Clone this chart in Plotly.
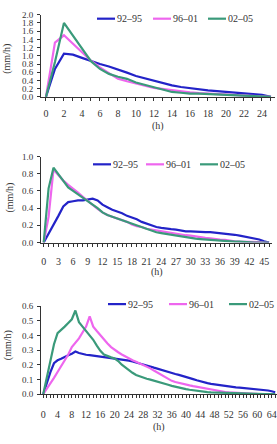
import plotly.graph_objects as go

# ---------------- data ----------------
series_names = ["92\u201395", "96\u201301", "02\u201305"]
colors = ["#2323c8", "#ee66ee", "#3a9a7a"]

# y tick labels of each panel
y_ticks1 = [0.0, 0.2, 0.4, 0.6, 0.8, 1.0, 1.2, 1.4, 1.6, 1.8, 2.0]
y_ticks2 = [0.0, 0.2, 0.4, 0.6, 0.8, 1.0]
y_ticks3 = [0.0, 0.1, 0.2, 0.3, 0.4, 0.5, 0.6]

# Panel 1 (hourly, 0..25 h)
h1 = list(range(0, 26))
p1_9295 = [0, 0.68, 1.05, 1.03, 0.95, 0.87, 0.80, 0.74, 0.67, 0.59, 0.51, 0.45, 0.39, 0.33,
           0.28, 0.24, 0.21, 0.19, 0.16, 0.14, 0.12, 0.10, 0.09, 0.07, 0.05, 0.0]
p1_9601 = [0, 1.32, 1.50, 1.29, 1.09, 0.88, 0.72, 0.57, 0.44, 0.38, 0.32, 0.27, 0.22, 0.19,
           0.16, 0.13, 0.11, 0.09, 0.08, 0.07, 0.05, 0.04, 0.03, 0.02, 0.01, 0.0]
p1_0205 = [0, 0.85, 1.80, 1.48, 1.16, 0.87, 0.68, 0.56, 0.49, 0.44, 0.35, 0.29, 0.23, 0.18,
           0.12, 0.10, 0.08, 0.08, 0.07, 0.06, 0.05, 0.05, 0.04, 0.03, 0.02, 0.0]

# Panel 2 (hourly, 0..46 h)
h2 = list(range(0, 47))
p2_9295 = [0, 0.10, 0.20, 0.31, 0.42, 0.47, 0.48, 0.49, 0.49, 0.50, 0.51, 0.49, 0.44, 0.41,
           0.38, 0.36, 0.34, 0.31, 0.29, 0.27, 0.24, 0.22, 0.20, 0.18, 0.17, 0.16, 0.155, 0.15,
           0.14, 0.13, 0.13, 0.125, 0.12, 0.12, 0.12, 0.115, 0.11, 0.105, 0.10, 0.09, 0.08,
           0.07, 0.06, 0.05, 0.035, 0.015, 0.0]
p2_9601 = [0, 0.30, 0.85, 0.78, 0.72, 0.67, 0.63, 0.58, 0.53, 0.48, 0.43, 0.39, 0.35, 0.32,
           0.30, 0.28, 0.26, 0.24, 0.21, 0.19, 0.18, 0.16, 0.15, 0.14, 0.13, 0.12, 0.11, 0.10,
           0.09, 0.085, 0.08, 0.07, 0.06, 0.055, 0.05, 0.04, 0.035, 0.03, 0.02, 0.015, 0.01,
           0.01, 0.01, 0.01, 0.005, 0.0, 0.0]
p2_0205 = [0, 0.63, 0.87, 0.79, 0.72, 0.64, 0.60, 0.56, 0.52, 0.49, 0.45, 0.40, 0.35, 0.32,
           0.30, 0.28, 0.26, 0.24, 0.22, 0.20, 0.18, 0.16, 0.14, 0.12, 0.11, 0.10, 0.09, 0.08,
           0.07, 0.06, 0.05, 0.045, 0.04, 0.035, 0.03, 0.03, 0.025, 0.02, 0.015, 0.01, 0.01,
           0.005, 0.005, 0.0, 0.0, 0.0, 0.0]

# Panel 3 (hourly, 0..65 h)
h3 = list(range(0, 66))
p3_9295 = [0, 0.08, 0.15, 0.21, 0.23, 0.24, 0.255, 0.265, 0.275, 0.29, 0.28, 0.272, 0.268,
           0.265, 0.262, 0.26, 0.257, 0.254, 0.25, 0.247, 0.244, 0.24, 0.236, 0.232, 0.228,
           0.222, 0.216, 0.21, 0.203, 0.196, 0.188, 0.18, 0.172, 0.164, 0.156, 0.149, 0.143,
           0.137, 0.131, 0.125, 0.118, 0.11, 0.102, 0.094, 0.086, 0.079, 0.074, 0.069, 0.065,
           0.061, 0.057, 0.054, 0.051, 0.048, 0.046, 0.044, 0.042, 0.04, 0.038, 0.036, 0.034,
           0.031, 0.028, 0.024, 0.019, 0.012]
p3_9601 = [0, 0.035, 0.07, 0.11, 0.15, 0.19, 0.23, 0.27, 0.32, 0.35, 0.38, 0.42, 0.46, 0.53,
           0.46, 0.43, 0.40, 0.37, 0.345, 0.32, 0.30, 0.285, 0.27, 0.255, 0.24, 0.23, 0.22,
           0.21, 0.20, 0.19, 0.175, 0.16, 0.145, 0.13, 0.115, 0.10, 0.09, 0.082, 0.075, 0.069,
           0.064, 0.059, 0.054, 0.049, 0.044, 0.039, 0.034, 0.029, 0.024, 0.02, 0.017, 0.014,
           0.012, 0.01, 0.008, 0.007, 0.005, 0.004, 0.003, 0.002, 0.001, 0.0, 0.0, 0.0, 0.0, 0.0]
p3_0205 = [0, 0.12, 0.24, 0.34, 0.415, 0.435, 0.46, 0.485, 0.51, 0.57, 0.49, 0.46, 0.43,
           0.40, 0.37, 0.33, 0.295, 0.27, 0.258, 0.25, 0.242, 0.225, 0.2, 0.18, 0.16, 0.145,
           0.13, 0.12, 0.112, 0.104, 0.098, 0.092, 0.086, 0.079, 0.071, 0.063, 0.056, 0.049,
           0.043, 0.038, 0.033, 0.029, 0.025, 0.021, 0.018, 0.015, 0.013, 0.011, 0.01, 0.009,
           0.008, 0.007, 0.006, 0.005, 0.004, 0.003, 0.002, 0.001, 0, 0, 0, 0, 0, 0, 0, 0]

panels = [
    dict(x=h1, ys=[p1_9295, p1_9601, p1_0205], xr=[-0.55, 25.45], yr=[0, 2.0], yt_vals=y_ticks1,
         xdt=2, xdom=[41, 275], y0px=94, ytpx=10, legy=14, legx=[97, 153, 208],
         xt=124, yt=(7, 55), xstand=4),
    dict(x=h2, ys=[p2_9295, p2_9601, p2_0205], xr=[-0.55, 46.6], yr=[0, 1.0], yt_vals=y_ticks2,
         xdt=3, xdom=[41, 272], y0px=243, ytpx=155, legy=163, legx=[93, 146, 200],
         xt=273, yt=(10, 197), xstand=6),
    dict(x=h3, ys=[p3_9295, p3_9601, p3_0205], xr=[-0.64, 65.5], yr=[0, 0.6], yt_vals=y_ticks3,
         xdt=4, xdom=[41, 277], y0px=398, ytpx=308, legy=306, legx=[108, 169, 229],
         xt=432, yt=(8, 348), xstand=8),
]

W, H = 277, 444
FONT = "Liberation Serif"
TXT = "#333"
fig = go.Figure()
layout = dict(width=W, height=H, margin=dict(l=0, r=0, t=0, b=0),
              paper_bgcolor="white", plot_bgcolor="white", showlegend=False,
              font=dict(family=FONT, size=10, color=TXT))
annotations, shapes = [], []
for i, p in enumerate(panels):
    n = "" if i == 0 else str(i + 1)
    xa, ya = "x" + n, "y" + n
    for s, (name, col) in enumerate(zip(series_names, colors)):
        fig.add_trace(go.Scatter(x=p["x"], y=p["ys"][s], mode="lines", name=name,
                                 line=dict(color=col, width=2.2), xaxis=xa, yaxis=ya))
        lx = p["legx"][s]
        ly = 1 - p["legy"] / H
        shapes.append(dict(type="line", xref="paper", yref="paper", x0=lx / W, x1=(lx + 18) / W,
                           y0=ly, y1=ly, line=dict(color=col, width=2.2)))
        annotations.append(dict(text=name, x=(lx + 18) / W, y=ly, xref="paper", yref="paper",
                                showarrow=False, xanchor="left", yanchor="middle",
                                font=dict(size=10, family=FONT, color=TXT)))
    layout["xaxis" + n] = dict(domain=[p["xdom"][0] / W, p["xdom"][1] / W], range=p["xr"],
                               anchor=ya, dtick=p["xdt"], tick0=0, showgrid=False,
                               zeroline=False, showline=True, linecolor=TXT, linewidth=1,
                               ticks="outside", ticklen=3, tickcolor=TXT, tickangle=0,
                               ticklabelstandoff=p["xstand"], ticklabeloverflow="allow",
                               minor=dict(dtick=1, tick0=0, ticks="outside", ticklen=3,
                                          tickcolor=TXT, showgrid=False),
                               tickfont=dict(size=10, family=FONT, color=TXT))
    layout["yaxis" + n] = dict(domain=[1 - p["y0px"] / H, 1 - p["ytpx"] / H],
                               range=p["yr"], anchor=xa, tickmode="array",
                               tickvals=p["yt_vals"],
                               ticktext=[f"{v:.1f}" for v in p["yt_vals"]],
                               showgrid=False, zeroline=False,
                               showline=True, linecolor=TXT, linewidth=1,
                               ticks="outside", ticklen=3, tickcolor=TXT,
                               ticklabelstandoff=2, ticklabeloverflow="allow",
                               tickfont=dict(size=9, family=FONT, color=TXT))
    annotations.append(dict(text="(h)", x=(p["xdom"][0] + p["xdom"][1]) / 2 / W,
                            y=1 - p["xt"] / H, xref="paper", yref="paper",
                            showarrow=False, xanchor="center", yanchor="middle",
                            font=dict(size=10, family=FONT, color=TXT)))
    annotations.append(dict(text="(mm/h)", x=p["yt"][0] / W, y=1 - p["yt"][1] / H,
                            xref="paper", yref="paper", showarrow=False, textangle=-90,
                            xanchor="center", yanchor="middle",
                            font=dict(size=10, family=FONT, color=TXT)))
layout["annotations"] = annotations
layout["shapes"] = shapes
fig.update_layout(**layout)
fig.write_html("out.html")
